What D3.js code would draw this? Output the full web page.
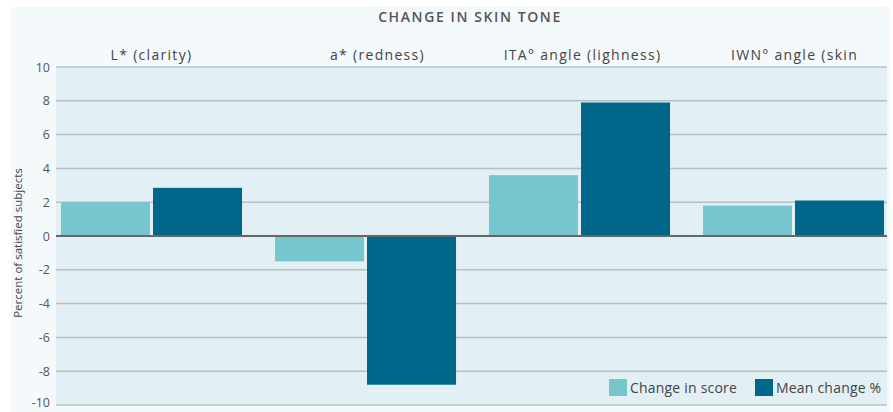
<!DOCTYPE html>
<html><head><meta charset="utf-8">
<script src="https://cdn.jsdelivr.net/npm/d3@7"></script>
<style>body{margin:0;background:#fff}svg{display:block}</style>
</head><body>
<svg id="c" width="893" height="412"></svg>
<script>
const categories = ["L* (clarity)", "a* (redness)", "ITA° angle (lighness)", "IWN° angle (skin"];
const seriesNames = ["Change in score", "Mean change %"];
const changeInScore = [2.0, -1.5, 3.6, 1.8];
const meanChange = [2.85, -8.8, 7.9, 2.1];
const yTicks = [10, 8, 6, 4, 2, 0, -2, -4, -6, -8, -10];
const colors = ["#76c6ce", "#00668a"];

const svg = d3.select("#c");
const font = "'Open Sans', sans-serif";
const plotL = 56, plotR = 887, plotT = 67, plotB = 405;
const labelShift = [0, 12, 3, 1];

svg.append("rect").attr("x", 11).attr("y", 7).attr("width", 879).attr("height", 405).attr("fill", "#f4f9fb");
svg.append("rect").attr("x", plotL).attr("y", plotT).attr("width", plotR - plotL).attr("height", plotB - plotT).attr("fill", "#e2eff4");

const y = d3.scaleLinear().domain([-10, 10]).range([plotB, plotT]);
const x0 = d3.scaleBand().domain(categories).range([44.5, 900.5]).paddingInner(0.154).paddingOuter(0.077);
const x1 = d3.scaleBand().domain(seriesNames).range([0, x0.bandwidth()]).paddingInner(0.033);

// grid
svg.append("g").selectAll("line").data(yTicks.filter(d => d !== 0)).join("line")
  .attr("x1", plotL).attr("x2", plotR).attr("y1", d => y(d)).attr("y2", d => y(d))
  .attr("stroke", "#b9c0c4").attr("stroke-width", 1.5);

// y axis labels
const yAxis = d3.axisLeft(y).tickValues(yTicks).tickSize(0).tickPadding(0).tickFormat(d => String(d));
const ga = svg.append("g").attr("transform", `translate(50,0)`).call(yAxis);
ga.select(".domain").remove();
ga.selectAll("text").attr("font-family", font).attr("font-size", 12.5).attr("fill", "#555")
  .attr("dy", d => d === -10 ? "0.1em" : "0.32em");

// bars
const rows = categories.map((c, i) => ({cat: c, vals: [changeInScore[i], meanChange[i]]}));
const g = svg.append("g").selectAll("g").data(rows).join("g")
  .attr("transform", d => `translate(${x0(d.cat)},0)`);
g.selectAll("rect").data(d => d.vals.map((v, j) => ({name: seriesNames[j], v, j}))).join("rect")
  .attr("x", d => x1(d.name)).attr("width", x1.bandwidth())
  .attr("y", d => y(Math.max(0, d.v))).attr("height", d => Math.abs(y(d.v) - y(0)))
  .attr("fill", d => colors[d.j]);

// zero line
svg.append("line").attr("x1", plotL).attr("x2", plotR).attr("y1", y(0)).attr("y2", y(0))
  .attr("stroke", "#666").attr("stroke-width", 2);

// category labels
svg.append("g").selectAll("text").data(categories).join("text")
  .attr("x", (d, i) => x0(d) + x0.bandwidth() / 2 + labelShift[i]).attr("y", 60)
  .attr("text-anchor", "middle").attr("font-family", font).attr("font-size", 14)
  .attr("letter-spacing", "1.3px").attr("fill", "#444").text(d => d);

// title
svg.append("text").attr("x", 470).attr("y", 22).attr("text-anchor", "middle")
  .attr("font-family", font).attr("font-size", 14).attr("font-weight", 600).attr("letter-spacing", "1.6px")
  .attr("fill", "#555").text("CHANGE IN SKIN TONE");

// y label
svg.append("text").attr("transform", "translate(22,243) rotate(-90)").attr("text-anchor", "middle")
  .attr("font-family", font).attr("font-size", 11.5).attr("fill", "#444").text("Percent of satisfied subjects");

// legend
const legX = [609, 755];
const lg = svg.append("g").selectAll("g").data(seriesNames).join("g")
  .attr("transform", (d, i) => `translate(${legX[i]},379)`);
lg.append("rect").attr("width", 18).attr("height", 17).attr("fill", (d, i) => colors[i]);
lg.append("text").attr("x", 21).attr("y", 14).attr("font-family", font).attr("font-size", 14)
  .attr("letter-spacing", "0.2px").attr("fill", "#444").text(d => d);
</script>
</body></html>
